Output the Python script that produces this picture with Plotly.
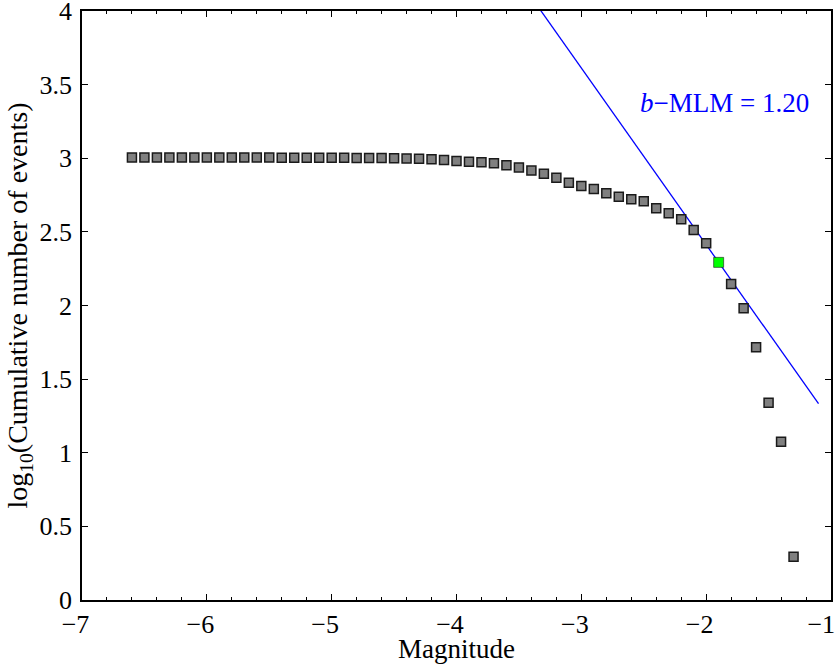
import plotly.graph_objects as go

# Magnitude bins and log10 cumulative counts
magnitudes = [-6.6, -6.5, -6.4, -6.3, -6.2, -6.1, -6.0, -5.9, -5.8, -5.7, -5.6, -5.5,
              -5.4, -5.3, -5.2, -5.1, -5.0, -4.9, -4.8, -4.7, -4.6, -4.5, -4.4, -4.3,
              -4.2, -4.1, -4.0, -3.9, -3.8, -3.7, -3.6, -3.5, -3.4, -3.3, -3.2, -3.1,
              -3.0, -2.9, -2.8, -2.7, -2.6, -2.5, -2.4, -2.3, -2.2, -2.1, -2.0, -1.9,
              -1.8, -1.7, -1.6, -1.5, -1.4, -1.3]
log_cum = [3.005, 3.005, 3.005, 3.005, 3.005, 3.005, 3.005, 3.005, 3.005, 3.005, 3.005, 3.005,
           3.004, 3.004, 3.004, 3.004, 3.003, 3.003, 3.002, 3.002, 3.001, 3.000, 2.999, 2.997,
           2.994, 2.988, 2.981, 2.977, 2.972, 2.966, 2.952, 2.938, 2.916, 2.895, 2.868, 2.834,
           2.812, 2.791, 2.762, 2.739, 2.721, 2.708, 2.660, 2.626, 2.585, 2.513, 2.422, 2.293,
           2.146, 1.981, 1.716, 1.340, 1.075, 0.294]

mc = -1.9
mc_log = 2.293
b_value = 1.20
fit_x = [-3.5, -1.1]
fit_a = mc_log + b_value * mc
fit_y = [fit_a - b_value * x for x in fit_x]

x_ticks = [-7, -6, -5, -4, -3, -2, -1]
x_ticktext = ["\u22127", "\u22126", "\u22125", "\u22124", "\u22123", "\u22122", "\u22121"]
y_ticks = [0, 0.5, 1, 1.5, 2, 2.5, 3, 3.5, 4]
y_ticktext = ["0", "0.5", "1", "1.5", "2", "2.5", "3", "3.5", "4"]

serif = "Liberation Serif, Times New Roman, serif"
FS = 26
NB = "\u00a0"
# pad labels so the digit (not the minus sign) sits on the tick, as in the reference
x_ticktext_padded = [t + NB * (3 if i == len(x_ticktext) - 1 else 2)
                     for i, t in enumerate(x_ticktext)]

fig = go.Figure()
fig.add_trace(go.Scatter(x=fit_x, y=fit_y, mode="lines",
                         line=dict(color="#0000ff", width=1.3), showlegend=False))
others_x = [m for m in magnitudes if abs(m - mc) > 1e-9]
others_y = [v for m, v in zip(magnitudes, log_cum) if abs(m - mc) > 1e-9]
fig.add_trace(go.Scatter(x=others_x, y=others_y, mode="markers",
                         marker=dict(symbol="square", size=9, color="#808080",
                                     line=dict(color="#1a1a1a", width=1.5)),
                         showlegend=False))
fig.add_trace(go.Scatter(x=[mc], y=[mc_log], mode="markers",
                         marker=dict(symbol="square", size=10, color="#00ff00",
                                     line=dict(color="#1a1a1a", width=0.6)),
                         showlegend=False))

fig.add_annotation(x=-1.85, y=3.375, xref="x", yref="y",
                   text="<i>b</i>\u2212MLM = 1.20", showarrow=False,
                   font=dict(family=serif, size=27, color="#0000ff"),
                   xanchor="center", yanchor="middle")

axis_common = dict(showgrid=False, zeroline=False, showline=True, linecolor="black",
                   linewidth=1.5, mirror="ticks", ticks="inside", tickcolor="black",
                   tickwidth=1.2, ticklen=6, ticklabeloverflow="allow", automargin=False,
                   tickfont=dict(family=serif, size=FS, color="black"))

fig.update_xaxes(range=[-7, -1], tickmode="array", tickvals=x_ticks,
                 ticktext=x_ticktext_padded,
                 minor=dict(ticks="inside", dtick=0.2, tick0=-7, ticklen=3,
                            tickcolor="black", tickwidth=1.2),
                 title=dict(text="Magnitude", font=dict(family=serif, size=27, color="black"),
                            standoff=0),
                 **axis_common)
fig.update_yaxes(range=[0, 4], tickmode="array", tickvals=y_ticks, ticktext=y_ticktext,
                 title=dict(text=NB * 4 + "log<sub>10</sub>(Cumulative number of events)",
                            font=dict(family=serif, size=28, color="black"), standoff=4),
                 ticklabelstandoff=3,
                 **axis_common)

fig.update_layout(width=835, height=664, margin=dict(l=82, r=4, t=11, b=64),
                  plot_bgcolor="white", paper_bgcolor="white")

fig.write_html("out.html")
